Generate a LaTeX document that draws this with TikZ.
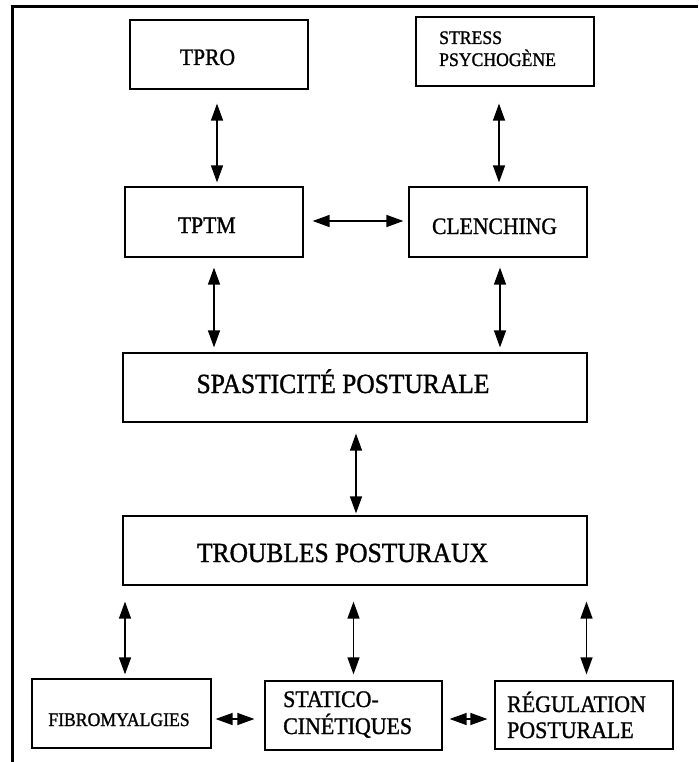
\documentclass[tikz,border=0pt]{standalone}
\usepackage{fontspec}
\setmainfont{Liberation Serif}[FakeStretch=0.92, FakeBold=1.2]
\usetikzlibrary{arrows.meta}
\tikzset{
  box/.style={draw, line width=1.2pt, rectangle, inner sep=0pt, minimum height=69pt},
  frameline/.style={line width=2.6pt},
  dbl/.style={{Triangle[length=17pt,width=12pt]}-{Triangle[length=17pt,width=12pt]}, line width=1.3pt},
  ftop/.style={font=\fontsize{23.5pt}{28pt}\selectfont, inner sep=0pt},
  fbig/.style={font=\fontsize{27.7pt}{32pt}\selectfont, inner sep=0pt},
  fsmall/.style={font=\fontsize{19.2pt}{22pt}\selectfont, inner sep=0pt},
  fmid/.style={font=\fontsize{23.8pt}{27pt}\selectfont, inner sep=0pt}
}
\begin{document}
\begin{tikzpicture}[x=1pt,y=-1pt]
\useasboundingbox (0,0) rectangle (698,762);
% outer frame
\draw[frameline] (698,6.5) -- (12.5,6.5) -- (12.5,762);
% boxes
\node[box, minimum width=178pt] (tpro) at (219,54.5) {};
\node[box, minimum width=178pt] (stress) at (505,51.5) {};
\node[box, minimum width=178pt, minimum height=70pt] (tptm) at (214,222) {};
\node[box, minimum width=178pt, minimum height=70pt] (clen) at (498,222) {};
\node[box, minimum width=464pt] (spast) at (355,387.5) {};
\node[box, minimum width=464pt] (troub) at (355,550.5) {};
\node[box, minimum width=179pt] (fib) at (121.5,713.5) {};
\node[box, minimum width=177pt] (stat) at (353.5,715.5) {};
\node[box, minimum width=178pt, minimum height=68pt] (reg) at (584,715) {};
% texts
\node[ftop, anchor=base] (ttpro) at (207.5,65) {TPRO};
\node[fsmall, anchor=base west] (tst1) at (439,44) {STRESS};
\node[fsmall, anchor=base west] (tst2) at (439,66) {PSYCHOGÈNE};
\node[ftop, anchor=base] (ttptm) at (206.8,233) {TPTM};
\node[ftop, anchor=base] (tclen) at (494.5,234) {CLENCHING};
\node[fbig, anchor=base] (tspast) at (343,393) {SPASTICITÉ POSTURALE};
\node[fbig, anchor=base] (ttroub) at (342.5,562) {TROUBLES POSTURAUX};
\node[fsmall, anchor=base] (tfib) at (119,726) {FIBROMYALGIES};
\node[fmid, anchor=base west] (tstat1) at (283,707) {STATICO-};
\node[fmid, anchor=base west] (tstat2) at (283,734) {CINÉTIQUES};
\node[fmid, anchor=base west] (treg1) at (507,712) {RÉGULATION};
\node[fmid, anchor=base west] (treg2) at (507,738) {POSTURALE};
% connectors
\draw[dbl, shorten <=14pt, shorten >=4pt] ([xshift=-2pt]tpro.south) -- ([xshift=-2pt]tpro.south |- tptm.north);
\draw[dbl, shorten <=17pt, shorten >=4pt] ([xshift=-6pt]stress.south) -- ([xshift=-6pt]stress.south |- clen.north);
\draw[dbl, shorten <=9pt, shorten >=5pt] ([yshift=1pt]tptm.east) -- ([yshift=1pt]tptm.east -| clen.west);
\draw[dbl, shorten <=10pt, shorten >=5pt] (tptm.south) -- (tptm.south |- spast.north);
\draw[dbl, shorten <=10pt, shorten >=5pt] ([xshift=2pt]clen.south) -- ([xshift=2pt]clen.south |- spast.north);
\draw[dbl, shorten <=11pt, shorten >=2pt] ([xshift=1pt]spast.south) -- ([xshift=1pt]spast.south |- troub.north);
\draw[dbl, shorten <=16pt, shorten >=4pt] ([xshift=3.5pt]fib.north |- troub.south) -- ([xshift=3.5pt]fib.north);
\draw[dbl, shorten <=16pt, shorten >=6pt] (stat.north |- troub.south) -- (stat.north);
\draw[dbl, shorten <=16pt, shorten >=6pt] ([xshift=2.5pt]reg.north |- troub.south) -- ([xshift=2.5pt]reg.north);
\draw[dbl, shorten <=4pt, shorten >=10pt] ([yshift=-5.5pt]fib.east) -- ([yshift=-5.5pt]fib.east -| stat.west);
\draw[dbl, shorten <=7pt, shorten >=7pt] ([yshift=-3.5pt]stat.east) -- ([yshift=-3.5pt]stat.east -| reg.west);
\end{tikzpicture}
\end{document}
